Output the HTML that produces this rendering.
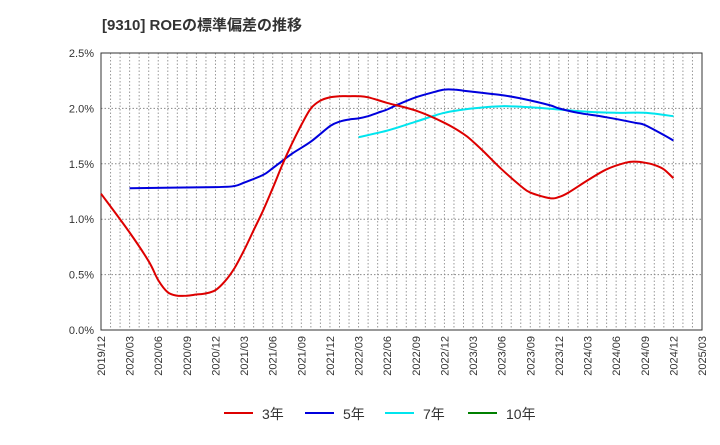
<!DOCTYPE html>
<html><head><meta charset="utf-8"><style>
body{margin:0;background:#fff;font-family:"Liberation Sans","Noto Sans CJK JP",sans-serif}
</style></head><body>
<svg id="c" width="720" height="440" xmlns="http://www.w3.org/2000/svg" style="font-family:'Liberation Sans','Noto Sans CJK JP',sans-serif">
<text x="102" y="30" font-size="15" font-weight="bold" fill="#333">[9310]  ROEの標準偏差の推移</text>
</svg>
<script>
const xTicks=["2019/12","2020/03","2020/06","2020/09","2020/12","2021/03","2021/06","2021/09","2021/12","2022/03","2022/06","2022/09","2022/12","2023/03","2023/06","2023/09","2023/12","2024/03","2024/06","2024/09","2024/12","2025/03"];
const yTicks=[0,0.5,1.0,1.5,2.0,2.5];
const s3m=[0,3,5,6,7,8,9,10,11,12,13,14,15,16,17,18,19,20,21,22,23,24,25,26,27,28,30,33,36,38,39,40,42,44,45,47,48,49,51,53,55,56,57,58,59,60];
const s3v=[1.23,0.88,0.62,0.45,0.34,0.31,0.31,0.32,0.33,0.36,0.44,0.56,0.72,0.90,1.08,1.28,1.49,1.68,1.85,2.00,2.07,2.10,2.11,2.11,2.11,2.10,2.05,1.98,1.87,1.77,1.70,1.62,1.45,1.30,1.24,1.19,1.20,1.24,1.35,1.45,1.51,1.52,1.51,1.49,1.45,1.37];
const s5m=[3,12,14,15,17,18,20,22,24,25,26,27,28,29,30,31,33,35,36,37,38,40,42,44,47,48,50,53,56,57,59,60];
const s5v=[1.28,1.29,1.30,1.33,1.40,1.46,1.59,1.70,1.84,1.88,1.90,1.91,1.93,1.96,1.99,2.03,2.10,2.15,2.17,2.17,2.16,2.14,2.12,2.09,2.03,2.00,1.96,1.92,1.87,1.85,1.76,1.71];
const s7m=[27,30,33,36,39,42,45,48,51,54,57,60];
const s7v=[1.74,1.80,1.88,1.96,2.00,2.02,2.01,1.99,1.97,1.96,1.96,1.93];
const L=101,R=702,T=53,B=330,NM=63;
const X=m=>L+(R-L)*m/NM, Y=v=>B-(B-T)*v/2.5;
const svg=document.getElementById('c'),NS="http://www.w3.org/2000/svg";
function mk(t,a,p){const e=document.createElementNS(NS,t);for(const k in a)e.setAttribute(k,a[k]);(p||svg).appendChild(e);return e;}
const g=mk('g',{});


for(let m=1;m<NM;m++)mk('line',{x1:X(m),x2:X(m),y1:T,y2:B,stroke:'#999','stroke-dasharray':'1.5,2','stroke-width':1},g);
yTicks.forEach(v=>{
 if(v>0&&v<2.5)mk('line',{x1:L,x2:R,y1:Y(v),y2:Y(v),stroke:'#888','stroke-dasharray':'1.5,2'},g);
 const t=mk('text',{x:L-7,y:Y(v)+4,'text-anchor':'end','font-size':11,fill:'#333'});
 t.textContent=v.toFixed(1)+'%';
 
 
});
xTicks.forEach((s,i)=>{
 const x=X(i*3)+4,t=mk('text',{x:x,y:B+6,'text-anchor':'end','font-size':11,fill:'#333',transform:`rotate(-90 ${x} ${B+6})`});
 t.textContent=s;
 
 
});
const fr=mk('rect',{x:L,y:T,width:R-L,height:B-T,fill:'none',stroke:'#333','stroke-width':1});


function line(ms,vs,c,n){
 const P=ms.map((m,i)=>[X(m),Y(vs[i])]);
 let d='M'+P[0][0].toFixed(1)+','+P[0][1].toFixed(1);
 for(let i=0;i<P.length-1;i++){
  const p0=P[Math.max(0,i-1)],p1=P[i],p2=P[i+1],p3=P[Math.min(P.length-1,i+2)];
  const c1=[p1[0]+(p2[0]-p0[0])/6,p1[1]+(p2[1]-p0[1])/6],c2=[p2[0]-(p3[0]-p1[0])/6,p2[1]-(p3[1]-p1[1])/6];
  d+='C'+c1.map(v=>v.toFixed(1)).join(',')+' '+c2.map(v=>v.toFixed(1)).join(',')+' '+p2.map(v=>v.toFixed(1)).join(',');
 }
 const p=mk('path',{d:d,fill:'none',stroke:c,'stroke-width':2,'stroke-linejoin':'round'});
 
 }
line(s7m,s7v,'#00e5ee','series-7y');
line(s5m,s5v,'#0000dd','series-5y');
line(s3m,s3v,'#dd0000','series-3y');
const leg=[['3年','#dd0000',224],['5年','#0000dd',305],['7年','#00e5ee',385],['10年','#008000',468]];
leg.forEach(([n,c,x])=>{
 const lg=mk('g',{});
 
 
 mk('line',{x1:x,x2:x+29,y1:413,y2:413,stroke:c,'stroke-width':2},lg);
 const t=mk('text',{x:x+38,y:419,'font-size':14,fill:'#333'},lg);t.textContent=n;
});
</script>
</body></html>
